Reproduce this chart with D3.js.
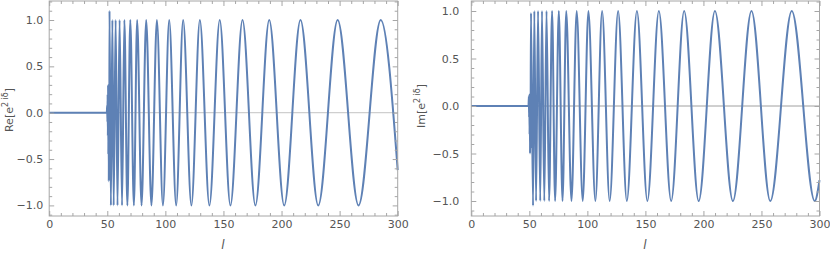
<!DOCTYPE html>
<html><head><meta charset="utf-8">
<script src="https://cdn.jsdelivr.net/npm/d3@7"></script>
<style>body{margin:0;background:#fff} svg{display:block} text{font-family:"DejaVu Sans",sans-serif}</style>
</head><body>
<svg id="c" width="830" height="253"></svg>
<script>
// ---- data ----
const xTicks = [0, 50, 100, 150, 200, 250, 300];
const yTicks = [-1.0, -0.5, 0.0, 0.5, 1.0];
const xLabel = "l";

// Re[e^{2iδ}] : l positions and values (flat part, transition, extrema, end)
const reL = [0, 49.6, 49.9, 50.1, 50.3, 50.5, 50.7, 50.9, 51.1, 51.3, 51.5, 51.7, 51.9,
  53.1, 54.4, 55.5, 57.2, 58.8, 60.6, 62.7, 64.7, 67.3, 69.8, 72.9, 75.7, 79.5, 83.5, 88.0,
  92.7, 97.9, 103.3, 109.3, 115.3, 122.4, 129.7, 137.9, 146.8, 156.0, 166.4, 177.5, 189.4,
  202.3, 216.3, 231.6, 248.3, 266.3, 285.4, 300];
const reV = [0, 0, 0.08, -0.1, 0.2, -0.25, 0.3, -0.45, 0.28, -0.74, 0.25, -0.7, 1.1,
  -1, 1, -1, 1, -1, 1, -1, 1, -1, 1, -1, 1, -1, 1, -1,
  1, -1, 1, -1, 1, -1, 1, -1, 1, -1, 1, -1, 1,
  -1, 1, -1, 1, -1, 1, -0.62];

// Im[e^{2iδ}]
const imL = [0, 49.3, 49.6, 49.8, 50.0, 50.2, 50.4, 50.6, 50.8, 51.0, 51.4,
  53.2, 54.3, 55.8, 57.5, 59.4, 60.9, 62.9, 64.8, 67.0, 69.6, 72.2, 75.4, 78.6, 81.8, 86.3,
  90.8, 96.0, 100.9, 106.9, 112.7, 119.2, 126.5, 134.0, 142.7, 151.7, 161.6, 172.2, 183.4,
  195.9, 209.9, 225.4, 241.4, 257.6, 276.1, 295.9, 300];
const imV = [0, 0, 0.1, -0.12, 0.12, -0.3, 0.05, -0.5, 0.1, -0.45, 0.98,
  -1.05, 1, -1, 1, -1, 1, -1, 1, -1, 1, -1, 1, -1, 1, -1,
  1, -1, 1, -1, 1, -1, 1, -1, 1, -1, 1, -1, 1,
  -1, 1, -1, 1, -1, 1, -1, -0.78];

// ---- drawing ----
const svg = d3.select("#c");
const LINE = "#5E81B5", FRAME = "#a6a6a6", TXT = "#555";

function panel(o) {
  const x = d3.scaleLinear().domain([0, 300]).range([o.x0, o.x1]);
  const y = d3.scaleLinear().domain(o.yDom).range([o.yb, o.yt]);
  const g = svg.append("g");

  g.append("line").attr("x1", o.x0).attr("x2", o.x1)
    .attr("y1", y(0)).attr("y2", y(0))
    .attr("stroke", o.zeroColor).attr("stroke-width", o.zeroW);

  const pts = o.L.map((l, i) => [l, o.V[i]]);
  g.append("path").datum(pts)
    .attr("fill", "none").attr("stroke", LINE).attr("stroke-width", 2)
    .attr("stroke-linejoin", "round")
    .attr("d", d3.line().x(d => x(d[0])).y(d => y(d[1])).curve(d3.curveMonotoneX));

  g.append("rect").attr("x", o.x0).attr("y", o.yt)
    .attr("width", o.x1 - o.x0).attr("height", o.yb - o.yt)
    .attr("fill", "none").attr("stroke", FRAME).attr("stroke-width", 1);

  const xMinor = d3.range(0, 301, 10).filter(v => v % 50 !== 0);
  const yMinor = d3.range(-11, 13).map(v => v / 10).filter(v => Math.abs(v * 2 - Math.round(v * 2)) > 1e-6);

  function styleAxis(sel) {
    sel.select(".domain").remove();
    sel.selectAll("line").attr("stroke", FRAME);
    sel.selectAll("text").attr("fill", TXT).style("font-size", "11px")
      .style("font-family", "DejaVu Sans, sans-serif");
  }
  g.append("g").attr("transform", `translate(0,${o.yb})`)
    .call(d3.axisBottom(x).tickValues(xTicks).tickSize(-5).tickPadding(4).tickFormat(d3.format("d"))).call(styleAxis);
  g.append("g").attr("transform", `translate(0,${o.yb})`)
    .call(d3.axisBottom(x).tickValues(xMinor).tickSize(-3).tickFormat("")).call(styleAxis);
  g.append("g").attr("transform", `translate(0,${o.yt})`)
    .call(d3.axisTop(x).tickValues(xTicks).tickSize(-5).tickFormat("")).call(styleAxis);
  g.append("g").attr("transform", `translate(0,${o.yt})`)
    .call(d3.axisTop(x).tickValues(xMinor).tickSize(-3).tickFormat("")).call(styleAxis);
  g.append("g").attr("transform", `translate(${o.x0},0)`)
    .call(d3.axisLeft(y).tickValues(yTicks).tickSize(-5).tickPadding(o.yPad).tickFormat(d3.format(".1f"))).call(styleAxis);
  g.append("g").attr("transform", `translate(${o.x0},0)`)
    .call(d3.axisLeft(y).tickValues(yMinor).tickSize(-3).tickFormat("")).call(styleAxis);
  g.append("g").attr("transform", `translate(${o.x1},0)`)
    .call(d3.axisRight(y).tickValues(yTicks).tickSize(-5).tickFormat("")).call(styleAxis);
  g.append("g").attr("transform", `translate(${o.x1},0)`)
    .call(d3.axisRight(y).tickValues(yMinor).tickSize(-3).tickFormat("")).call(styleAxis);

  g.append("text").attr("x", o.xlx).attr("y", 249).attr("text-anchor", "middle")
    .attr("fill", TXT).style("font-size", "12px").style("font-style", "italic").text(xLabel);

  const t = g.append("text").attr("transform", `translate(${o.ylx},${o.yly}) rotate(-90)`)
    .attr("text-anchor", "middle").attr("fill", TXT).style("font-size", "11px");
  t.append("tspan").text(o.fn + "[");
  t.append("tspan").text("e");
  t.append("tspan").attr("dy", -5).style("font-size", "8px").text("2 ");
  t.append("tspan").style("font-size", "8px").text("i");
  t.append("tspan").style("font-size", "8px").text("δ");
  t.append("tspan").attr("dy", 5).text("]");
}

panel({ L: reL, V: reV, fn: "Re", x0: 49.2, x1: 397.7, yt: 1, yb: 216,
  yDom: [-(216 - 112.7) / 92.7, (112.7 - 1) / 92.7], yPad: 6,
  zeroColor: "#cfcfcf", zeroW: 1.3, xlx: 223, ylx: 13, yly: 110 });
panel({ L: imL, V: imV, fn: "Im", x0: 471.3, x1: 819.5, yt: 1, yb: 216,
  yDom: [-(216 - 106) / 95, (106 - 1) / 95], yPad: 12,
  zeroColor: "#a0a0a0", zeroW: 1, xlx: 645, ylx: 425, yly: 106 });
</script>
</body></html>
